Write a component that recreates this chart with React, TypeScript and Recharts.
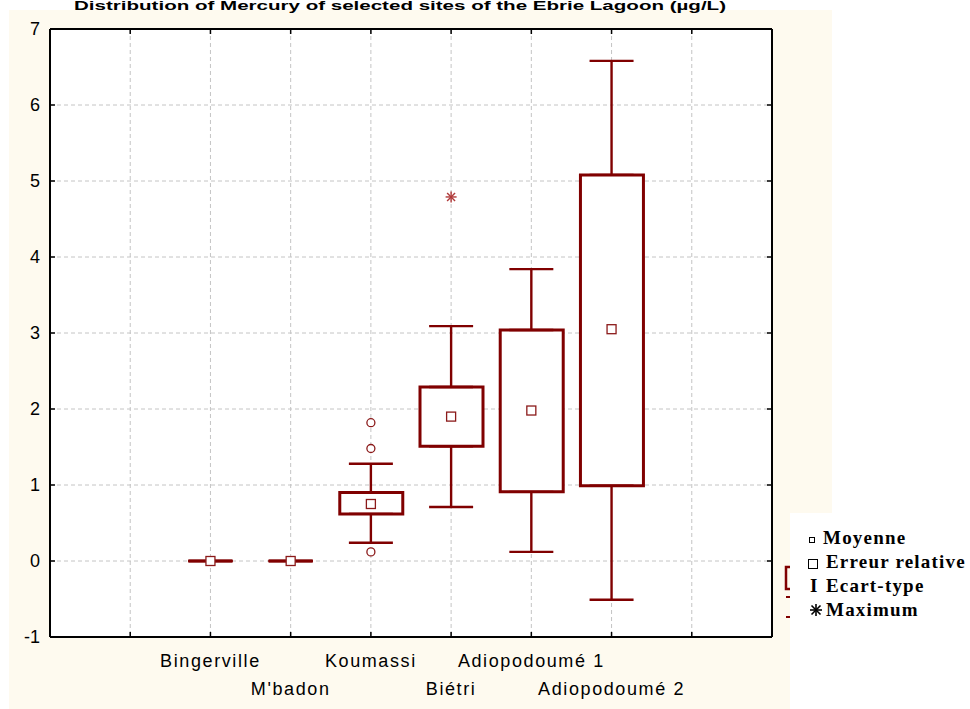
import React from 'react';
import { ComposedChart, Bar, Scatter, ErrorBar, XAxis, YAxis, CartesianGrid } from 'recharts';

// mercury per site (box = quartiles, whiskers = min/max without outliers)
const SITES = ['Bingerville', "M'badon", 'Koumassi', 'Biétri', 'Adiopodoumé 1', 'Adiopodoumé 2'];
const MEAN = [0, 0, 0.75, 1.9, 1.98, 3.05];
const Q1 = [0, 0, 0.62, 1.51, 0.91, 0.99];
const Q3 = [0, 0, 0.9, 2.29, 3.04, 5.08];
const LOW = [0, 0, 0.24, 0.71, 0.12, -0.51];
const HIGH = [0, 0, 1.28, 3.09, 3.84, 6.58];
const OUTLIERS = [
  { site: 'Koumassi', value: 1.82 },
  { site: 'Koumassi', value: 1.48 },
  { site: 'Koumassi', value: 0.12 },
];
const EXTREMES = [{ site: 'Biétri', value: 4.79 }];

const X_TICKS = [1, 2, 3, 4, 5, 6, 7, 8];
const Y_TICKS = [-1, 0, 1, 2, 3, 4, 5, 6, 7];

const RED = '#800000';
const SANS = '"Liberation Sans", Arial, sans-serif';
const SERIF = '"Liberation Serif", "Times New Roman", serif';

const posOf = (site: string) => SITES.indexOf(site) + 2;

const boxData = SITES.map((s, i) => ({
  x: posOf(s),
  box: Q3[i] > Q1[i] ? [Q1[i], Q3[i]] : null,
}));
const upperWhisker = SITES.map((s, i) => ({ x: posOf(s), y: Q3[i], err: [0, HIGH[i] - Q3[i]] }));
const lowerWhisker = SITES.map((s, i) => ({ x: posOf(s), y: Q1[i], err: [Q1[i] - LOW[i], 0] }));
const meanData = SITES.map((s, i) => ({ x: posOf(s), y: MEAN[i] }));
const outlierData = OUTLIERS.map(o => ({ x: posOf(o.site), y: o.value }));
const extremeData = EXTREMES.map(o => ({ x: posOf(o.site), y: o.value }));

const Empty = () => <g />;

const MeanMark = (p: any) => (
  <rect x={p.cx - 4.5} y={p.cy - 4.5} width={9} height={9} fill="#fff" stroke="#8b1a1a" strokeWidth={1.3} />
);
const OutlierMark = (p: any) => <circle cx={p.cx} cy={p.cy} r={4} fill="#fff" stroke="#8b1a1a" strokeWidth={1.3} />;
const Asterisk = (p: any) => {
  const r = 5.5;
  const d = r * 0.72;
  return (
    <g stroke="#b03a3a" strokeWidth={1.4}>
      <line x1={p.cx - r} y1={p.cy} x2={p.cx + r} y2={p.cy} />
      <line x1={p.cx} y1={p.cy - r} x2={p.cx} y2={p.cy + r} />
      <line x1={p.cx - d} y1={p.cy - d} x2={p.cx + d} y2={p.cy + d} />
      <line x1={p.cx - d} y1={p.cy + d} x2={p.cx + d} y2={p.cy - d} />
    </g>
  );
};

const LeftTick = ({ x, y, payload }: any) => (
  <g>
    <line x1={x} x2={x + 5} y1={y} y2={y} stroke="#000" strokeWidth={1.5} />
    <text x={x - 10} y={y} dy={6} textAnchor="end" fontFamily={SANS} fontSize={18} fill="#000">
      {payload.value}
    </text>
  </g>
);
const RightTick = ({ x, y }: any) => <line x1={x} x2={x - 5} y1={y} y2={y} stroke="#000" strokeWidth={1.5} />;
const TopTick = ({ x, y }: any) => <line x1={x} x2={x} y1={y} y2={y + 5} stroke="#000" strokeWidth={1.5} />;
const BottomTick = ({ x, y, payload }: any) => {
  const idx = SITES.findIndex(s => posOf(s) === payload.value);
  return (
    <g>
      <line x1={x} x2={x} y1={y} y2={y - 5} stroke="#000" strokeWidth={1.5} />
      {idx >= 0 && (
        <text
          x={x}
          y={y + (idx % 2 === 0 ? 30 : 58)}
          textAnchor="middle"
          fontFamily={SANS}
          fontSize={18}
          letterSpacing={1.6}
          fill="#000"
        >
          {SITES[idx]}
        </text>
      )}
    </g>
  );
};

const LEGEND = ['Moyenne', 'Erreur relative', 'Ecart-type', 'Maximum'];

const frame = { stroke: '#000', strokeWidth: 2 };

export default function App() {
  return (
    <div style={{ position: 'absolute', left: 0, top: 0, width: 970, height: 709, background: '#fff', overflow: 'hidden' }}>
      <div style={{ position: 'absolute', left: 9, top: 10, width: 823, height: 699, background: '#fefaef' }} />
      <div style={{ position: 'absolute', left: 0, top: 0 }}>
        <ComposedChart width={970} height={709} data={boxData} margin={{ top: 28, right: 197, bottom: 71, left: 49 }}>
          <CartesianGrid stroke="#c4c4c4" strokeDasharray="4 3" fill="#fff" />
          <XAxis
            dataKey="x"
            type="number"
            domain={[0, 9]}
            ticks={X_TICKS}
            interval={0}
            allowDataOverflow
            height={1}
            tickSize={0}
            tickMargin={0}
            tickLine={false}
            axisLine={frame}
            tick={<BottomTick />}
          />
          <XAxis
            xAxisId="top"
            orientation="top"
            dataKey="x"
            type="number"
            domain={[0, 9]}
            ticks={X_TICKS}
            interval={0}
            allowDataOverflow
            height={1}
            tickSize={0}
            tickMargin={0}
            tickLine={false}
            axisLine={frame}
            tick={<TopTick />}
          />
          <YAxis
            type="number"
            domain={[-1, 7]}
            ticks={Y_TICKS}
            interval={0}
            allowDataOverflow
            width={1}
            tickSize={0}
            tickMargin={0}
            tickLine={false}
            axisLine={frame}
            tick={<LeftTick />}
          />
          <YAxis
            yAxisId="right"
            orientation="right"
            type="number"
            domain={[-1, 7]}
            ticks={Y_TICKS}
            interval={0}
            allowDataOverflow
            width={1}
            tickSize={0}
            tickMargin={0}
            tickLine={false}
            axisLine={frame}
            tick={<RightTick />}
          />
          <Scatter data={upperWhisker} dataKey="y" shape={<Empty />} isAnimationActive={false}>
            <ErrorBar dataKey="err" direction="y" width={22} stroke={RED} strokeWidth={2.4} isAnimationActive={false} />
          </Scatter>
          <Scatter data={lowerWhisker} dataKey="y" shape={<Empty />} isAnimationActive={false}>
            <ErrorBar dataKey="err" direction="y" width={22} stroke={RED} strokeWidth={2.4} isAnimationActive={false} />
          </Scatter>
          <Bar dataKey="box" barSize={63} fill="#fff" stroke={RED} strokeWidth={3} isAnimationActive={false} />
          <Scatter data={meanData} dataKey="y" shape={<MeanMark />} isAnimationActive={false} />
          <Scatter data={outlierData} dataKey="y" shape={<OutlierMark />} isAnimationActive={false} />
          <Scatter data={extremeData} dataKey="y" shape={<Asterisk />} isAnimationActive={false} />
        </ComposedChart>
      </div>
      <svg width={970} height={709} style={{ position: 'absolute', left: 0, top: 0, pointerEvents: 'none' }}>
        <text x={400} y={10} textAnchor="middle" fontFamily={SANS} fontWeight="bold" fontSize={12} textLength={652} lengthAdjust="spacingAndGlyphs" fill="#000">
          Distribution of Mercury of selected sites of the Ebrie Lagoon (µg/L)
        </text>
        <rect x={786} y={567} width={14} height={22} fill="none" stroke={RED} strokeWidth={2.5} />
        <line x1={786} x2={798} y1={597} y2={597} stroke={RED} strokeWidth={2} />
        <line x1={786} x2={798} y1={617} y2={617} stroke={RED} strokeWidth={2} />
        <rect x={790} y={513} width={180} height={196} fill="#fff" />
        <rect x={809.5} y={537.5} width={5} height={5} fill="none" stroke="#000" strokeWidth={1} />
        <rect x={808.5} y={559.5} width={9} height={9} fill="none" stroke="#000" strokeWidth={1} />
        <text x={810} y={592} fontFamily={SERIF} fontWeight="bold" fontSize={19} fill="#000">I</text>
        <g stroke="#000" strokeWidth={1.6}>
          <line x1={810} x2={822} y1={610} y2={610} />
          <line x1={816} x2={816} y1={604} y2={616} />
          <line x1={811.5} x2={820.5} y1={605.5} y2={614.5} />
          <line x1={811.5} x2={820.5} y1={614.5} y2={605.5} />
        </g>
        {LEGEND.map((t, i) => (
          <text
            key={t}
            x={i === 0 ? 823 : 826}
            y={544 + i * 24}
            fontFamily={SERIF}
            fontWeight="bold"
            fontSize={19}
            letterSpacing={1.2}
            fill="#000"
          >
            {t}
          </text>
        ))}
      </svg>
    </div>
  );
}
